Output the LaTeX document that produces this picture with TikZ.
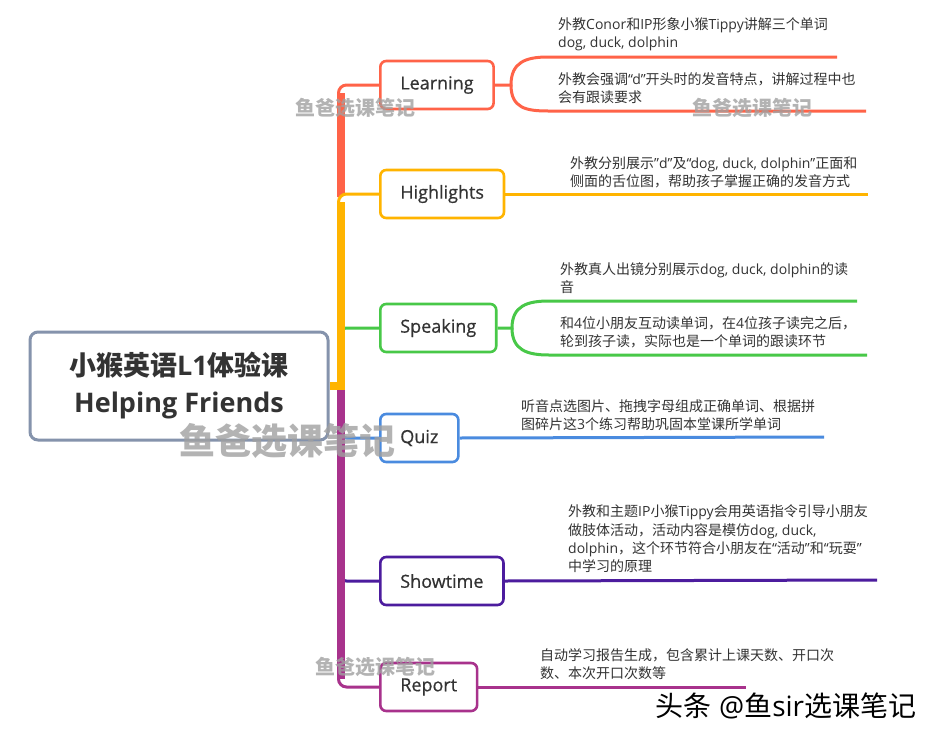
\documentclass[tikz,border=0pt]{standalone}
\usepackage{fontspec}
\setmainfont{Open Sans}
\newfontfamily\cjk{Noto Sans CJK SC}
\newfontfamily\labelfont{Open Sans}[FakeBold=0.6]
% switch to the CJK font for Han characters and CJK punctuation
\XeTeXinterchartokenstate=1
\newXeTeXintercharclass\cjkclass
\newcount\cjkcode
\def\setclassrange#1#2#3{\cjkcode=#1 \loop\XeTeXcharclass\cjkcode=#3 \advance\cjkcode by 1 \ifnum\cjkcode<#2 \repeat}
\setclassrange{"0020}{"0300}{0}
\setclassrange{"2000}{"2070}{0}
\setclassrange{"4E00}{"A000}{\cjkclass}
\setclassrange{"3000}{"3040}{\cjkclass}
\setclassrange{"FF00}{"FFF0}{\cjkclass}
\XeTeXinterchartoks 0 \cjkclass = {\cjk}
\XeTeXinterchartoks 4095 \cjkclass = {\cjk}
\XeTeXinterchartoks \cjkclass 0 = {\rmfamily}
\XeTeXinterchartoks \cjkclass 4095 = {\rmfamily}
\definecolor{learnred}{RGB}{255,99,72}
\definecolor{highorange}{RGB}{255,180,0}
\definecolor{speakgreen}{RGB}{72,200,72}
\definecolor{quizblue}{RGB}{74,139,223}
\definecolor{showpurple}{RGB}{76,28,158}
\definecolor{reportpink}{RGB}{168,50,140}
\definecolor{rootgray}{RGB}{133,147,172}
\definecolor{txtgray}{RGB}{51,51,51}
\definecolor{wmgray}{RGB}{160,160,160}
\tikzset{
    topicbox/.style={draw=#1, line width=2.6pt, rounded corners=6pt, fill=white, text=txtgray,
        font=\labelfont\fontsize{18}{22}\selectfont, inner xsep=20pt, minimum height=48pt, anchor=west},
    branch/.style={draw=#1, line width=3pt},
    trunk/.style={draw=#1, line width=8pt},
    note/.style={align=left, anchor=south west, inner sep=0pt, text=txtgray,
        font=\fontsize{14}{18.3}\selectfont},
    wmark/.style={text=wmgray, opacity=0.8, inner sep=0pt, font=\bfseries\fontsize{#1}{#1}\selectfont},
}
\begin{document}
\begin{tikzpicture}[x=1pt,y=-1pt]
    \useasboundingbox[fill=white] (0,0) rectangle (937,739);
    % central topic
    \node[draw=rootgray, line width=3pt, rounded corners=8pt, fill=white, text=txtgray,
        minimum width=298pt, minimum height=108pt, align=center,
        font=\bfseries\fontsize{27}{37}\selectfont] (root) at (179,386) {小猴英语L1体验课\\Helping Friends};
    % main topics
    \node[topicbox=learnred] (learn) at (379,85) {Learning};
    \node[topicbox=highorange] (high) at (379,194) {Highlights};
    \node[topicbox=speakgreen] (speak) at (379,328) {Speaking};
    \node[topicbox=quizblue] (quiz) at (379,438) {Quiz};
    \node[topicbox=showpurple] (show) at (379,581) {Showtime};
    \node[topicbox=reportpink] (report) at (379,687) {Report};
    % branches hidden behind the trunk
    \draw[branch=speakgreen, rounded corners=8pt] (338.5,386) |- (speak.west);
    \draw[branch=quizblue, rounded corners=8pt] (338.5,386) |- (quiz.west);
    \draw[branch=showpurple, rounded corners=8pt] (338.5,386) |- (show.west);
    % trunk
    \draw[trunk=learnred] (341,196) -- (341,93);
    \draw[branch=learnred, rounded corners=8pt] (338.5,197) |- (learn.west);
    \draw[trunk=highorange] (341,390) -- (341,202);
    \draw[branch=highorange, rounded corners=8pt] (338.5,390) |- (high.west);
    \draw[trunk=highorange] (root.east) -- (341,386);
    \draw[trunk=reportpink] (341,390) -- (341,679);
    \draw[branch=reportpink, rounded corners=8pt] (338.5,390) |- (report.west);
    % sub topics
    \coordinate (learnA) at (837,57);
    \coordinate (learnB) at (866,111);
    \draw[branch=learnred] (learn.east) -- (511,85) .. controls (511,62) and (526,57) .. (548,57) -- (learnA);
    \draw[branch=learnred] (511,85) .. controls (511,108) and (526,111) .. (548,111) -- (learnB);
    \node[note] (learnTxtA) at (558,51) {外教Conor和IP形象小猴Tippy讲解三个单词\\dog, duck, dolphin};
    \node[note] (learnTxtB) at (558,104) {外教会强调“d”开头时的发音特点，讲解过程中也\\会有跟读要求};

    \coordinate (highA) at (868,194);
    \draw[branch=highorange] (high.east) -- (highA);
    \node[note] (highTxt) at (570,188) {外教分别展示"d"及“dog, duck, dolphin”正面和\\侧面的舌位图，帮助孩子掌握正确的发音方式};

    \coordinate (speakA) at (857,301);
    \coordinate (speakB) at (867,355);
    \draw[branch=speakgreen] (speak.east) -- (512,328) .. controls (512,306) and (527,301) .. (549,301) -- (speakA);
    \draw[branch=speakgreen] (512,328) .. controls (512,350) and (527,355) .. (549,355) -- (speakB);
    \node[note] (speakTxtA) at (560,294) {外教真人出镜分别展示dog, duck, dolphin的读\\音};
    \node[note] (speakTxtB) at (560,348) {和4位小朋友互动读单词，在4位孩子读完之后，\\轮到孩子读，实际也是一个单词的跟读环节};

    \coordinate (quizA) at (824,437);
    \draw[branch=quizblue] (quiz.east) -- (quizA);
    \node[note] (quizTxt) at (521,431) {听音点选图片、拖拽字母组成正确单词、根据拼\\图碎片这3个练习帮助巩固本堂课所学单词};

    \coordinate (showA) at (877,580);
    \draw[branch=showpurple] (show.east) -- (showA);
    \node[note] (showTxt) at (568,573) {外教和主题IP小猴Tippy会用英语指令引导小朋友\\做肢体活动，活动内容是模仿dog, duck,\\dolphin，这个环节符合小朋友在“活动”和“玩耍”\\中学习的原理};

    \coordinate (reportA) at (746,687);
    \draw[branch=reportpink] (report.east) -- (reportA);
    \node[note] (reportTxt) at (540,680) {自动学习报告生成，包含累计上课天数、开口次\\数、本次开口次数等};
    % watermarks
    \node[wmark=20] (wmA) at (355,108) {鱼爸选课笔记};
    \node[wmark=20] (wmB) at (752,108) {鱼爸选课笔记};
    \node[wmark=36] (wmC) at (287,441) {鱼爸选课笔记};
    \node[wmark=20] (wmD) at (375,667) {鱼爸选课笔记};
    \node[text=black, inner sep=0pt, font=\fontsize{28}{28}\selectfont] (credit) at (786,706) {头条 @鱼sir选课笔记};
\end{tikzpicture}
\end{document}
